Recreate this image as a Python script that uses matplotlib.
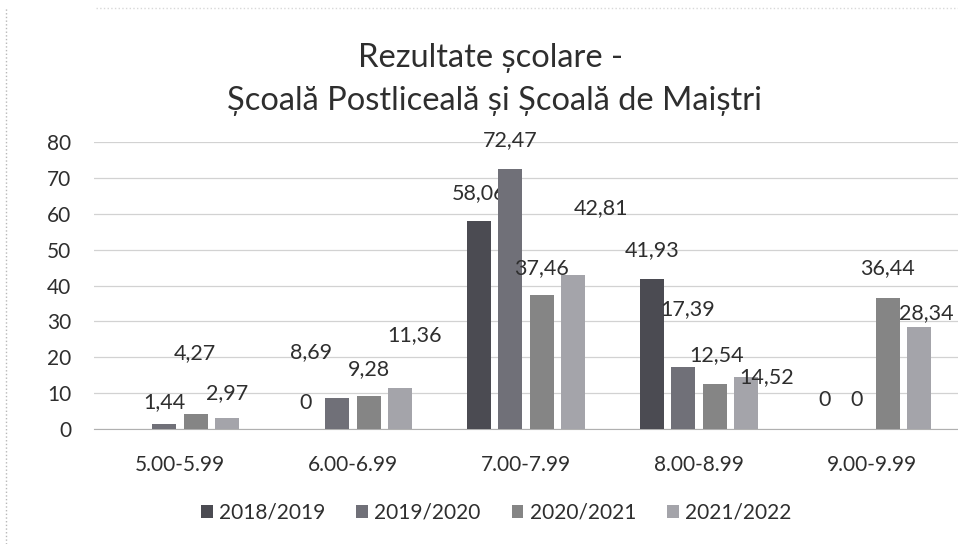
import matplotlib
matplotlib.use("Agg")
import numpy as np
from matplotlib import pyplot as plt
from matplotlib.lines import Line2D

# Data
categories = ['5.00-5.99', '6.00-6.99', '7.00-7.99', '8.00-8.99', '9.00-9.99']
series = ['2018/2019', '2019/2020', '2020/2021', '2021/2022']
values = [
    [0, 0, 58.06, 41.93, 0],          # 2018/2019
    [1.44, 8.69, 72.47, 17.39, 0],    # 2019/2020
    [4.27, 9.28, 37.46, 12.54, 36.44],  # 2020/2021
    [2.97, 11.36, 42.81, 14.52, 28.34],  # 2021/2022
]
# which labels are shown (first bar of first group has none)
show_label = [
    [False, True, True, True, True],
    [True, True, True, True, True],
    [True, True, True, True, True],
    [True, True, True, True, True],
]
# label placement in pixels (dx, dy above bar top), as in the original
label_dx = [
    [0, 0, 0, 0, 0],
    [0, -26, 0, 4, 0],
    [-1, 0, 0, 2, 0],
    [0, 14, 28, 20, 7],
]
label_dy = [
    [0, 26, 28, 28, 29],
    [22, 46, 29, 58, 29],
    [61, 27, 27, 29, 30],
    [25, 53, 67, 0, 14],
]

colors = ['#4b4b52', '#707078', '#858585', '#a4a4aa']
text_color = '#2e2e2e'
font = ['Lato', 'DejaVu Sans']
plt.rcParams['font.family'] = font

fig = plt.figure(figsize=(9.58, 5.44), dpi=100)
ax = fig.add_axes([93.5 / 958, 1 - 429 / 544, (958.5 - 93.5) / 958, (429 - 142) / 544])

x = np.arange(len(categories))
step = 0.182
width = 0.139
px2pt = 72 / 100

for i, name in enumerate(series):
    pos = x + (i - 1.5) * step
    ax.bar(pos, values[i], width=width, color=colors[i], label=name, zorder=3)
    for j, v in enumerate(values[i]):
        if not show_label[i][j]:
            continue
        txt = ('%.2f' % v).replace('.', ',') if v != 0 else '0'
        ax.annotate(txt, (pos[j], v),
                    xytext=(label_dx[i][j] * px2pt, label_dy[i][j] * px2pt),
                    textcoords='offset points', ha='center', va='center',
                    fontsize=15.5, color=text_color, annotation_clip=False)

ax.set_xlim(-0.5, len(categories) - 0.5)
ax.set_ylim(0, 80)
ax.set_yticks(range(0, 81, 10))
ax.set_xticks(x)
ax.set_xticklabels(categories)
ax.tick_params(axis='both', length=0, labelsize=15, labelcolor=text_color)
ax.tick_params(axis='x', pad=19)
ax.tick_params(axis='y', pad=16)
ax.grid(axis='y', color='#d2d2d2', linewidth=0.9, zorder=0)
for s in ['top', 'right', 'left']:
    ax.spines[s].set_visible(False)
ax.spines['bottom'].set_color('#b0b0b0')

fig.text(0.512, 0.893, 'Rezultate școlare -', ha='center', va='center',
         fontsize=23.5, color=text_color)
fig.text(0.516, 0.814, 'Școală Postliceală și Școală de Maiștri', ha='center',
         va='center', fontsize=23.5, color=text_color)

fig.legend(loc='center', bbox_to_anchor=(0.518, 0.057), ncol=4, frameon=False,
           fontsize=15, handlelength=0.55, handleheight=0.55, handletextpad=0.3,
           columnspacing=1.5, labelcolor=text_color)

# scanned page border
fig.add_artist(Line2D([0.006, 0.006], [0.0, 0.985], color='#b8b8b8',
                      linewidth=1, linestyle=':'))
fig.add_artist(Line2D([0.1, 1.0], [0.985, 0.985], color='#d8d8d8',
                      linewidth=1, linestyle=':'))

fig.savefig('out.png', dpi=100)
